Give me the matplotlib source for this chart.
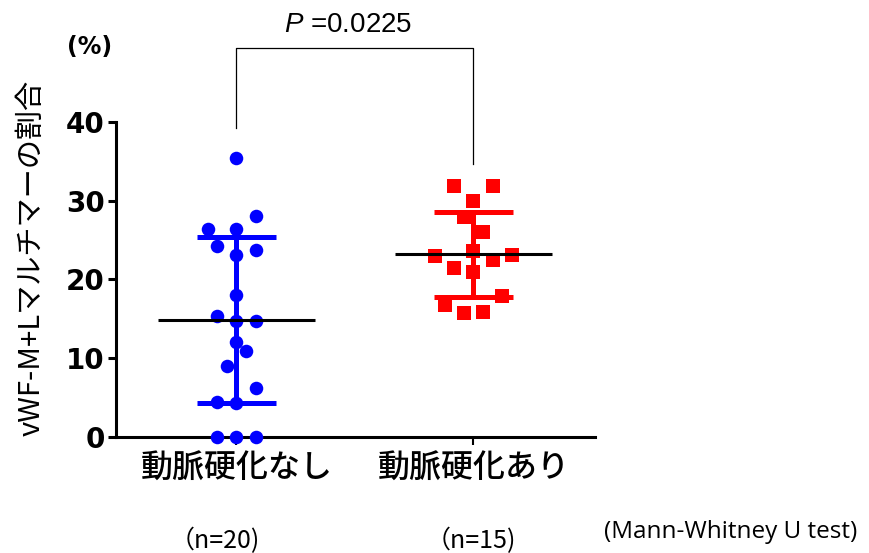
import matplotlib
matplotlib.use("Agg")
import matplotlib.pyplot as plt
import numpy as np

# ---- data ----
categories = ["動脈硬化なし", "動脈硬化あり"]
n_labels = ["（n=20)", "（n=15)"]
no_athero = [35.4, 28.1, 26.4, 26.4, 24.3, 23.8, 23.1, 18.0, 15.3, 14.7,
             14.7, 12.1, 10.9, 9.0, 6.2, 4.5, 4.3, 0.0, 0.0, 0.0]
athero = [31.9, 31.9, 30.0, 27.9, 26.0, 23.0, 23.6, 23.1, 22.5, 21.4,
          20.9, 17.9, 16.8, 15.7, 15.9]
medians = [14.8, 23.2]
err_low = [4.3, 17.8]
err_high = [25.4, 28.6]
yticks = [0, 10, 20, 30, 40]
p_text = "=0.0225"
test_text = "(Mann-Whitney U test)"
ylabel = "vWF-M+Lマルチマーの割合"
unit_text = "(%)"

# ---- layout (swarm slots, not data) ----
no_slots = [0, 2, -3, 0, -2, 2, 0, 0, -2, 0, 2, 0, 1, -1, 2, -2, 0, -2, 0, 2]
at_slots = [-2, 2, 0, -1, 1, -4, 0, 4, 2, -2, 0, 3, -3, -1, 1]
slot_w = 0.0405

JP = ["Noto Sans CJK JP", "DejaVu Sans"]

fig = plt.figure(figsize=(8.69, 5.53), dpi=100)
ax = fig.add_axes([0.1335, 0.2098, 0.5512, 0.5696])

colors = ["#0000ff", "#ff0000"]
groups = [no_athero, athero]
slots = [no_slots, at_slots]
markers = ["o", "s"]
for i, (vals, sl) in enumerate(zip(groups, slots)):
    xs = i + np.array(sl) * slot_w
    ax.scatter(xs, vals, s=95 if i == 0 else 100, marker=markers[i], color=colors[i],
               linewidths=0, zorder=3, clip_on=False)
    # error bars
    ax.plot([i, i], [err_low[i], err_high[i]], color=colors[i], lw=3.6, zorder=2,
            solid_capstyle="butt")
    for v in (err_low[i], err_high[i]):
        ax.plot([i - 0.167, i + 0.167], [v, v], color=colors[i], lw=3.6, zorder=2,
                solid_capstyle="butt")
    # median
    ax.plot([i - 0.331, i + 0.331], [medians[i], medians[i]], color="black", lw=2.2,
            zorder=4, solid_capstyle="butt")

ax.set_xlim(-0.508, 1.513)
ax.set_ylim(0, 40)
ax.set_yticks(yticks)
ax.set_yticklabels([str(t) for t in yticks], fontsize=20, fontweight="bold",
                   family="DejaVu Sans")
ax.set_xticks([0, 1])
ax.set_xticklabels(categories, family=JP, fontsize=23, fontweight="medium")
ax.tick_params(axis="y", length=6, width=2.2, pad=2)
ax.tick_params(axis="x", length=6, width=1.5, pad=5)
for s in ("top", "right"):
    ax.spines[s].set_visible(False)
for s in ("left", "bottom"):
    ax.spines[s].set_linewidth(2.2)

# significance bracket
ax.plot([0, 0, 1, 1], [39.2, 49.4, 49.4, 34.7], color="black", lw=0.9, clip_on=False)
plt.rcParams["mathtext.fontset"] = "custom"
plt.rcParams["mathtext.it"] = "Liberation Sans:italic"
ax.text(0.47, 52.3, r"$\it{P}$ " + p_text, ha="center", va="center", fontsize=20,
        family="Liberation Sans")

# labels
fig.text(32 / 869, 1 - 258 / 553, ylabel, rotation=90, ha="center", va="center",
         family=JP, fontsize=21)
fig.text(90 / 869, 1 - 47 / 553, unit_text, ha="center", va="center",
         family="DejaVu Sans", fontsize=17, fontweight="bold")
for x, t in zip([215, 471], n_labels):
    fig.text(x / 869, 1 - 541 / 553, t, ha="center", va="center", family=JP, fontsize=18)
fig.text(731 / 869, 1 - 532 / 553, test_text, ha="center", va="center",
         family="Open Sans", fontsize=17.5)

fig.savefig("out.png", dpi=100)
